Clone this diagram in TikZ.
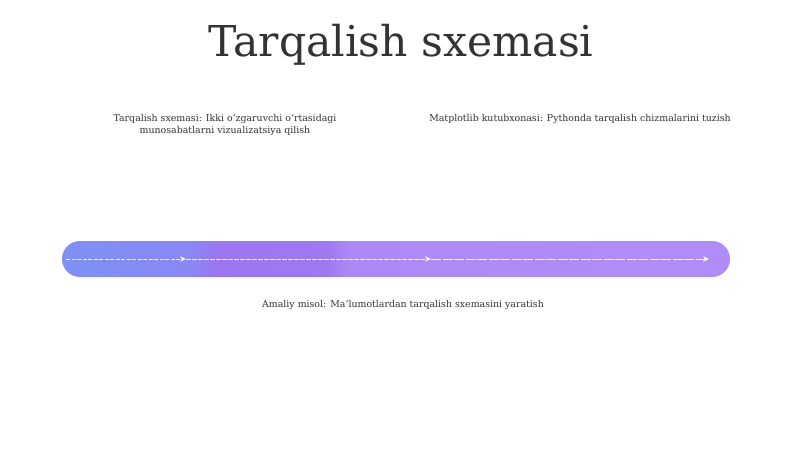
\documentclass[tikz,border=0pt]{standalone}
\usepackage{fontspec}
\setmainfont{DejaVu Serif}
\usetikzlibrary{arrows.meta}
\definecolor{txt}{HTML}{333333}
\definecolor{barA}{HTML}{7E90F4}
\definecolor{barA2}{HTML}{8A88F4}
\definecolor{barB}{HTML}{9A76F0}
\definecolor{barB2}{HTML}{9E7AF1}
\definecolor{barC}{HTML}{AC8AF5}
\definecolor{barD}{HTML}{B08DF6}
\pgfdeclarehorizontalshading{barshade}{100bp}{color(0bp)=(barA); color(25bp)=(barA); color(34.6bp)=(barA2); color(36.5bp)=(barB); color(45bp)=(barB2); color(46.5bp)=(barC); color(75bp)=(barD); color(100bp)=(barD)}
\tikzset{
  lbl/.style={text=txt, font=\fontsize{9.4}{12}\selectfont, align=center, inner sep=0pt},
  flow/.style={draw=white, draw opacity=0.85, line width=0.9pt, -{Stealth[length=6pt,width=5.5pt]}},
}
\begin{document}
\begin{tikzpicture}[x=1pt,y=-1pt]
\useasboundingbox[fill=white] (0,0) rectangle (800,449);
\node[text=txt, font=\fontsize{42.5}{48}\selectfont, inner sep=0pt] (title) at (401,45) {Tarqalish sxemasi};
\node[lbl] (t1) at (225,125) {Tarqalish sxemasi: Ikki o‘zgaruvchi o‘rtasidagi\\munosabatlarni vizualizatsiya qilish};
\node[lbl] (t2) at (580,119) {Matplotlib kutubxonasi: Pythonda tarqalish chizmalarini tuzish};
\node[lbl] (t3) at (403,305) {Amaliy misol: Ma'lumotlardan tarqalish sxemasini yaratish};
\path[rounded corners=18pt, shading=barshade, shading angle=0] (62,241) rectangle (730,277);
\coordinate (p0) at (66,259);
\coordinate (p1) at (186,259);
\coordinate (p2) at (431,259);
\coordinate (p3) at (709,259);
\draw[flow, dash pattern=on 4pt off 1.5pt] (p0) -- (p1);
\draw[flow, dash pattern=on 5pt off 1pt] (p1) -- (p2);
\draw[flow, dash pattern=on 10pt off 1.5pt] (p2) -- (p3);
\end{tikzpicture}
\end{document}
